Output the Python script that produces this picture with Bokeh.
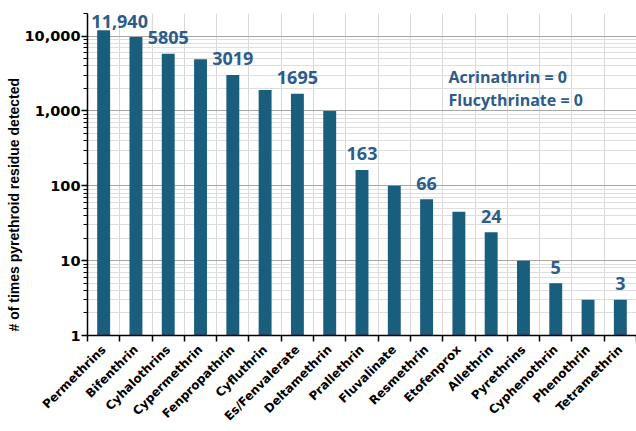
import math
from bokeh.plotting import figure
from bokeh.models import (ColumnDataSource, Range1d, FixedTicker, NumeralTickFormatter,
                          Label, Title)
from bokeh.embed import file_html
from bokeh.resources import INLINE
from bokeh.core.properties import value

# Pyrethroid residue detections (log scale)
compounds = ["Permethrins", "Bifenthrin", "Cyhalothrins", "Cypermethrin", "Fenpropathrin",
             "Cyfluthrin", "Es/Fenvalerate", "Deltamethrin", "Prallethrin", "Fluvalinate",
             "Resmethrin", "Etofenprox", "Allethrin", "Pyrethrins", "Cyphenothrin",
             "Phenothrin", "Tetramethrin"]
detections = [11940, 9700, 5805, 4900, 3019, 1900, 1695, 1000, 163, 100,
              66, 45, 24, 10, 5, 3, 3]
labelled = ["Permethrins", "Cyhalothrins", "Fenpropathrin", "Es/Fenvalerate", "Prallethrin",
            "Resmethrin", "Allethrin", "Cyphenothrin", "Tetramethrin"]
label_texts = ["11,940", "5805", "3019", "1695", "163", "66", "24", "5", "3"]
zero_notes = ["Acrinathrin = 0", "Flucythrinate = 0"]
y_ticks = [1, 10, 100, 1000, 10000]

BAR = "#1A5E7E"
TXT = "#2C5C8A"

n = len(compounds)
centers = [i + 0.5 for i in range(n)]

p = figure(width=636, height=431, y_axis_type="log", output_backend="svg",
           toolbar_location=None, x_range=Range1d(0, n), y_range=Range1d(1, 20000),
           min_border_left=87, min_border_right=0, min_border_top=13, min_border_bottom=95)
p.outline_line_color = None
p.background_fill_color = "white"

src = ColumnDataSource(dict(x=centers, top=detections, bottom=[1] * n))
p.vbar(x="x", top="top", bottom="bottom", width=0.4, source=src,
       fill_color=BAR, line_color=None)

# value labels above selected bars
lx, ly, dx, dy = [], [], [], []
for name, txt in zip(labelled, label_texts):
    i = compounds.index(name)
    lx.append(centers[i])
    ly.append(detections[i])
    dx.append(16 if i == 0 else 0)
    dy.append(-9 if i == 0 else -16)
lsrc = ColumnDataSource(dict(x=lx, y=ly, t=label_texts, dx=dx, dy=dy))
p.text(x="x", y="y", text="t", x_offset="dx", y_offset="dy", source=lsrc,
       text_align="center", text_baseline="alphabetic", text_color=TXT,
       text_font=value("Open Sans"), text_font_style="bold", text_font_size="18px")

# notes for compounds never detected
for note, yv in zip(zero_notes, [2840, 1400]):
    p.add_layout(Label(x=11.18, y=yv, text=note, text_color=TXT, text_font="Open Sans",
                       text_font_style="bold", text_font_size="16px",
                       text_baseline="middle", text_align="left"))

# x axis: labels at bar centres, tick marks at category boundaries
xax = p.xaxis[0]
xax.ticker = FixedTicker(ticks=centers, minor_ticks=list(range(n + 1)))
xax.major_label_overrides = {c: name for c, name in zip(centers, compounds)}
xax.major_label_orientation = math.pi / 4
xax.major_tick_line_color = None
xax.minor_tick_line_color = "black"
xax.minor_tick_out = 6
xax.minor_tick_in = 0
xax.axis_line_color = "black"
xax.axis_line_width = 1.5
xax.minor_tick_line_width = 1.5
xax.major_label_text_font = "DejaVu Sans"
xax.major_label_text_font_style = "bold"
xax.major_label_text_font_size = "12px"
xax.major_label_text_color = "black"
xax.major_label_standoff = 6

p.xgrid.ticker = FixedTicker(ticks=list(range(n + 1)))
p.xgrid.grid_line_color = "#d9d9d9"

yax = p.yaxis[0]
minor = [m * 10 ** d for d in range(5) for m in range(2, 10)]
yax.ticker = FixedTicker(ticks=y_ticks, minor_ticks=minor)
yax.formatter = NumeralTickFormatter(format="0,0")
yax.axis_line_color = "black"
yax.axis_line_width = 1.5
yax.major_tick_line_width = 1.5
yax.major_tick_out = 6
yax.major_tick_in = 0
yax.minor_tick_out = 4
yax.minor_tick_in = 0
yax.major_label_text_font = "DejaVu Sans"
yax.major_label_text_font_style = "bold"
yax.major_label_text_font_size = "14.5px"
yax.major_label_text_color = "black"
yax.major_label_standoff = 1

p.ygrid.grid_line_color = "#a6a6a6"
p.ygrid.minor_grid_line_color = "#dedede"

# y axis title, starting near the bottom of the frame
p.add_layout(Title(text="# of times pyrethroid residue detected", align="left",
                   offset=4, text_color="black", text_font="Liberation Sans",
                   text_font_style="bold", text_font_size="14px", standoff=0), "left")

open("out.html", "w").write(file_html(p, INLINE))
